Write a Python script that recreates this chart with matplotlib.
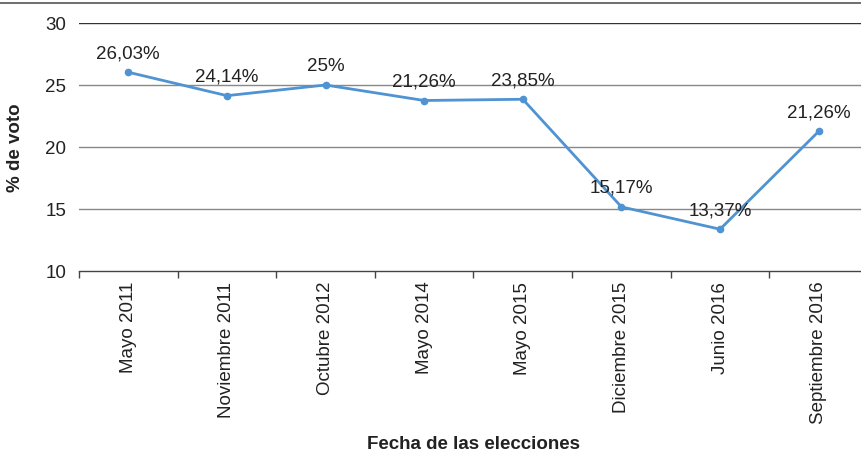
import matplotlib
matplotlib.use("Agg")
import matplotlib.pyplot as plt
from matplotlib.lines import Line2D

categories = ["Mayo 2011", "Noviembre 2011", "Octubre 2012", "Mayo 2014",
              "Mayo 2015", "Diciembre 2015", "Junio 2016", "Septiembre 2016"]
values = [26.03, 24.14, 25.0, 23.75, 23.85, 15.17, 13.37, 21.26]
point_labels = ["26,03%", "24,14%", "25%", "21,26%", "23,85%", "15,17%", "13,37%", "21,26%"]
yticks = [10, 15, 20, 25, 30]

plt.rcParams['font.family'] = ['Liberation Sans', 'DejaVu Sans']
FS = 13.5

fig = plt.figure(figsize=(8.62, 4.60), dpi=100)
ax = fig.add_axes([79/862, 1 - 272/460, (868 - 79)/862, (272 - 24)/460])

x = list(range(len(categories)))
ax.set_xlim(-0.5, len(categories) - 0.5)
ax.set_ylim(10, 30)

for t in yticks[1:]:
    ax.axhline(t, color='#333333' if t == 30 else '#888888', lw=1.0, zorder=1)

ax.plot(x, values, color='#4f93d2', lw=2.0, marker='o', ms=4.5, zorder=3, clip_on=False)
for xi, v, lab in zip(x, values, point_labels):
    ax.annotate(lab, (xi, v), xytext=(0, 8), textcoords='offset points',
                ha='center', va='bottom', fontsize=FS, color='#222222')

for s in ['top', 'right', 'left']:
    ax.spines[s].set_visible(False)
ax.spines['bottom'].set_color('#444444')
ax.spines['bottom'].set_linewidth(1.0)

ax.set_yticks(yticks)
ax.set_yticklabels([str(t) for t in yticks], fontsize=FS, color='#222222')
ax.tick_params(axis='y', length=0, pad=9)

ax.set_xticks(x)
ax.set_xticklabels(categories, rotation=90, fontsize=FS, color='#222222')
ax.tick_params(axis='x', which='major', length=0, pad=7)
ax.set_xticks([i + 0.5 for i in range(-1, len(categories) - 1)], minor=True)
ax.tick_params(axis='x', which='minor', length=5, width=1.0, color='#444444', direction='out')

fig.text(16/862, 1 - 148/460, "% de voto", rotation=90, ha='center', va='center',
         fontsize=FS, fontweight='bold', color='#222222')
ax.set_xlabel("Fecha de las elecciones", fontsize=FS, fontweight='bold', color='#222222', labelpad=8)

fig.add_artist(Line2D([0, 1], [1 - 4/460, 1 - 4/460], color='#555555', lw=1.2))

fig.savefig("out.png", dpi=100)
